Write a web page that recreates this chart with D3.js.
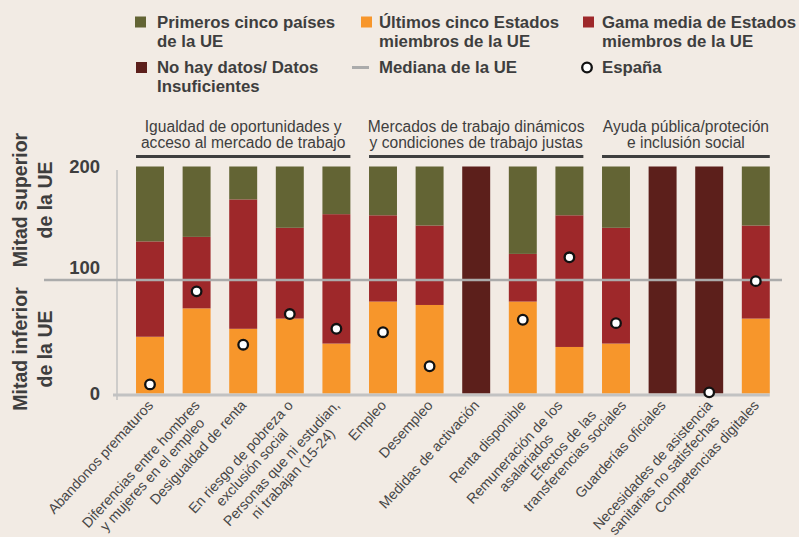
<!DOCTYPE html>
<html>
<head>
<meta charset="utf-8">
<script src="https://cdn.jsdelivr.net/npm/d3@7"></script>
<style>
  html, body { margin: 0; padding: 0; background: #F2EBE4; }
  svg { display: block; font-family: "Liberation Sans", Arial, sans-serif; }
</style>
</head>
<body>
<script>
// indicadores (saltos de linea = como en el original)
var categories = [
  'Abandonos prematuros',
  'Diferencias entre hombres\ny mujeres en el empleo',
  'Desigualdad de renta',
  'En riesgo de pobreza o\nexclusión social',
  'Personas que ni estudian,\nni trabajan (15-24)',
  'Empleo',
  'Desempleo',
  'Medidas de activación',
  'Renta disponible',
  'Remuneración de los\nasalariados',
  'Efectos de las\ntransferencias sociales',
  'Guarderías oficiales',
  'Necesidades de asistencia\nsanitarias no satisfechas',
  'Competencias digitales'
];
// techo de "ultimos cinco" y de "gama media" (null = no hay datos)
var lowerTop = [50, 75, 57, 66, 44, 81, 78, null, 81, 41, 44, null, null, 66];
var midTop   = [134, 138, 171, 146, 158, 157, 148, null, 123, 157, 146, null, null, 148];
var maxVal = 200;
var spain = [8, 90, 43, 70, 57, 54, 24, null, 65, 120, 62, null, 1, 99];
var median = 100;

var groupLabels = [
  'Igualdad de oportunidades y\nacceso al mercado de trabajo',
  'Mercados de trabajo dinámicos\ny condiciones de trabajo justas',
  'Ayuda pública/proteción\ne inclusión social'
];
var groupSizes = [5, 5, 4];

var yTicks = [0, 100, 200];
var yTitles = ['Mitad superior\nde la UE', 'Mitad inferior\nde la UE'];

var legendLabels = [
  'Primeros cinco países\nde la UE',
  'Últimos cinco Estados\nmiembros de la UE',
  'Gama media de Estados\nmiembros de la UE',
  'No hay datos/ Datos\nInsuficientes',
  'Mediana de la UE',
  'España'
];

var C = {
  top: '#636434',
  low: '#F7962B',
  mid: '#9E282A',
  nodata: '#5C1F1B',
  bg: '#F2EBE4',
  text: '#3e3e3e',
  median: '#ababab',
  axis: '#c2c2c2'
};

var W = 799, H = 537;
var svg = d3.select('body').append('svg').attr('width', W).attr('height', H);
svg.append('rect').attr('width', W).attr('height', H).attr('fill', C.bg);

var x = d3.scaleBand().domain(d3.range(categories.length))
  .range([126.7, 779.1]).paddingInner(0.4).paddingOuter(0.2);
var y = d3.scaleLinear().domain([0, maxVal]).range([393.5, 166.5]);
var bw = x.bandwidth();

// --- ejes
svg.append('line')
  .attr('x1', 117).attr('x2', 117).attr('y1', 170).attr('y2', 400)
  .attr('stroke', C.axis).attr('stroke-width', 1.5);

yTicks.forEach(function(v){
  svg.append('text')
    .attr('x', 100).attr('y', y(v) + 6.5 + (v === median ? -13 : 0))
    .attr('text-anchor', 'end')
    .attr('font-size', 18.5).attr('font-weight', 'bold')
    .attr('fill', C.text).text(v);
});

// titulos verticales
[200, 349].forEach(function(cy, k){
  yTitles[k].split('\n').forEach(function(l, j){
    svg.append('text')
      .attr('transform', 'translate(' + (27 + j*25) + ',' + cy + ') rotate(-90)')
      .attr('text-anchor', 'middle')
      .attr('font-size', 19.5).attr('font-weight', 'bold')
      .attr('fill', C.text).text(l);
  });
});

// --- barras
categories.forEach(function(cat, i){
  var bx = x(i);
  if (lowerTop[i] == null) {
    svg.append('rect').attr('x', bx).attr('width', bw)
      .attr('y', y(maxVal)).attr('height', y(0) - y(maxVal)).attr('fill', C.nodata);
    return;
  }
  var segs = [[0, lowerTop[i], C.low], [lowerTop[i], midTop[i], C.mid], [midTop[i], maxVal, C.top]];
  segs.forEach(function(s){
    svg.append('rect').attr('x', bx).attr('width', bw)
      .attr('y', y(s[1])).attr('height', y(s[0]) - y(s[1])).attr('fill', s[2]);
  });
});

// linea base
svg.append('line')
  .attr('x1', 113).attr('x2', x(categories.length - 1) + bw)
  .attr('y1', y(0) + 1.5).attr('y2', y(0) + 1.5)
  .attr('stroke', C.axis).attr('stroke-width', 3);

// mediana UE
svg.append('line')
  .attr('x1', 44).attr('x2', 782).attr('y1', y(median)).attr('y2', y(median))
  .attr('stroke', C.median).attr('stroke-width', 2.6);

// España
spain.forEach(function(v, i){
  if (v == null) return;
  svg.append('circle')
    .attr('cx', x(i) + bw/2).attr('cy', y(v)).attr('r', 4.8)
    .attr('fill', '#fff').attr('stroke', '#111').attr('stroke-width', 2.3);
});

// --- grupos
var start = 0;
groupLabels.forEach(function(g, k){
  var x0 = x(start), x1 = x(start + groupSizes[k] - 1) + bw;
  svg.append('line').attr('x1', x0).attr('x2', x1).attr('y1', 156.5).attr('y2', 156.5)
    .attr('stroke', '#3f3f3f').attr('stroke-width', 3);
  g.split('\n').forEach(function(l, j){
    svg.append('text').attr('x', (x0 + x1)/2).attr('y', 132 + j*16)
      .attr('text-anchor', 'middle').attr('font-size', 15.6)
      .attr('fill', C.text).text(l);
  });
  start += groupSizes[k];
});

// --- etiquetas X
var nudge = {9: -10, 10: 7};  // como en el original, para que no se pisen
categories.forEach(function(cat, i){
  var g = svg.append('g')
    .attr('transform', 'translate(' + (x(i) + bw/2 + 4 + (nudge[i] || 0)) + ',406) rotate(-47.5)');
  var texts = cat.split('\n').map(function(l){
    return g.append('text').attr('text-anchor', 'end')
      .attr('font-size', 14.2).attr('fill', '#474747').text(l);
  });
  var ws = texts.map(function(t){ return t.node().getComputedTextLength(); });
  var maxW = d3.max(ws), L = ws.indexOf(maxW);
  texts.forEach(function(t, j){
    t.attr('x', -(maxW - ws[j])/2).attr('y', (j - L)*15.5);
  });
});

// --- leyenda
var legPos = [[135, 22, 157], [361, 22, 379], [583, 22, 602], [136, 67.5, 157], [352, 67.5, 379], [587, 67.5, 602]];
var legKind = ['top', 'low', 'mid', 'nodata', 'median', 'spain'];
legendLabels.forEach(function(lab, k){
  var p = legPos[k], kind = legKind[k];
  if (kind === 'median') {
    svg.append('line').attr('x1', p[0]).attr('x2', p[0] + 17).attr('y1', p[1]).attr('y2', p[1])
      .attr('stroke', C.median).attr('stroke-width', 3);
  } else if (kind === 'spain') {
    svg.append('circle').attr('cx', p[0]).attr('cy', p[1]).attr('r', 4.8)
      .attr('fill', '#fff').attr('stroke', '#111').attr('stroke-width', 2.3);
  } else {
    svg.append('rect').attr('x', p[0]).attr('y', p[1] - 5.5).attr('width', 11).attr('height', 11)
      .attr('fill', C[kind]);
  }
  lab.split('\n').forEach(function(l, j){
    svg.append('text').attr('x', p[2]).attr('y', p[1] + 5.5 + j*19)
      .attr('font-size', 16.8).attr('font-weight', 'bold')
      .attr('fill', C.text).text(l);
  });
});
</script>
</body>
</html>
